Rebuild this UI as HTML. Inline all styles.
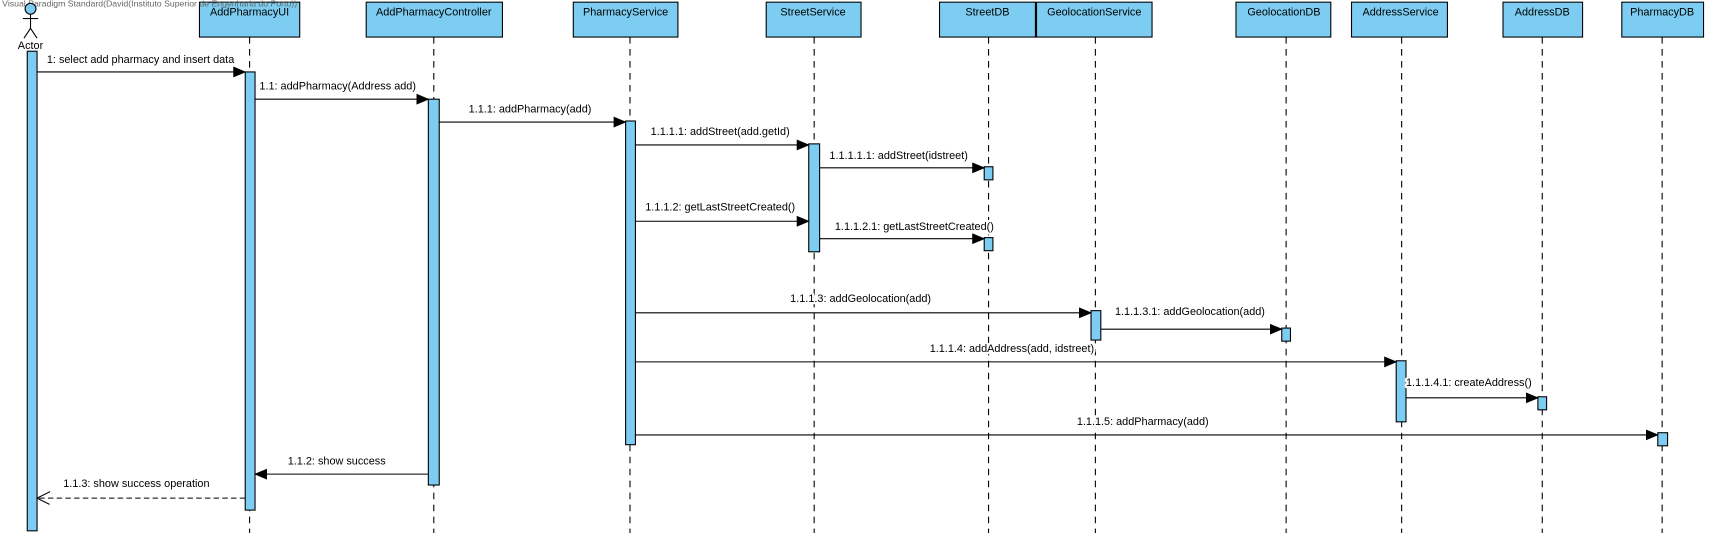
<!DOCTYPE html>
<html><head><meta charset="utf-8"><style>
html,body{margin:0;padding:0;background:#fff;}
svg{display:block;}
text{font-family:"Liberation Sans",Arial,sans-serif;font-size:10px;fill:#000;}
.m text{paint-order:stroke;stroke:#fff;stroke-width:4px;stroke-linejoin:round;}
</style></head><body>
<svg width="1709" height="533" viewBox="0 0 1568 489" preserveAspectRatio="none" xmlns="http://www.w3.org/2000/svg">
<defs>
<marker id="a" markerWidth="12" markerHeight="10" refX="11" refY="5" orient="auto" markerUnits="userSpaceOnUse"><path d="M0,0 L12,5 L0,10 Z" fill="#000"/></marker>
<marker id="o" markerWidth="14" markerHeight="14" refX="12" refY="6" orient="auto" markerUnits="userSpaceOnUse"><path d="M0,0 L12,6 L0,12" fill="none" stroke="#000"/></marker>
</defs>
<g stroke="#000" stroke-dasharray="6,5" stroke-width="1">
<line x1="229" y1="34" x2="229" y2="489"/><line x1="398" y1="34" x2="398" y2="489"/>
<line x1="578" y1="34" x2="578" y2="489"/><line x1="747" y1="34" x2="747" y2="489"/>
<line x1="907" y1="34" x2="907" y2="489"/><line x1="1005" y1="34" x2="1005" y2="489"/>
<line x1="1180" y1="34" x2="1180" y2="489"/><line x1="1286" y1="34" x2="1286" y2="489"/>
<line x1="1415" y1="34" x2="1415" y2="489"/><line x1="1525" y1="34" x2="1525" y2="489"/>
</g>
<g fill="#7ccdf1" stroke="#000">
<rect x="183" y="2" width="92" height="32"/><rect x="336" y="2" width="125" height="32"/>
<rect x="526" y="2" width="96" height="32"/><rect x="703" y="2" width="87" height="32"/>
<rect x="862" y="2" width="88" height="32"/><rect x="951" y="2" width="106" height="32"/>
<rect x="1134" y="2" width="87" height="32"/><rect x="1240" y="2" width="88" height="32"/>
<rect x="1379" y="2" width="73" height="32"/><rect x="1488" y="2" width="75" height="32"/>
</g>
<text x="2" y="6" style="font-size:8px;fill:#666">Visual Paradigm Standard(David(Instituto Superior de Engenharia do Porto))</text>
<g text-anchor="middle">
<text x="229" y="14">AddPharmacyUI</text><text x="398" y="14">AddPharmacyController</text>
<text x="574" y="14">PharmacyService</text><text x="746" y="14">StreetService</text>
<text x="906" y="14">StreetDB</text><text x="1004" y="14">GeolocationService</text>
<text x="1178" y="14">GeolocationDB</text><text x="1285" y="14">AddressService</text>
<text x="1415" y="14">AddressDB</text><text x="1525" y="14">PharmacyDB</text>
<text x="28" y="45">Actor</text>
</g>
<g stroke="#000" fill="none">
<circle cx="28" cy="8" r="5" fill="#7ccdf1"/>
<line x1="28" y1="13" x2="28" y2="26"/><line x1="21" y1="17" x2="35" y2="17"/>
<line x1="28" y1="26" x2="22" y2="35"/><line x1="28" y1="26" x2="34" y2="35"/>
</g>
<g fill="#7ccdf1" stroke="#000">
<rect x="25" y="47" width="9" height="440"/><rect x="225" y="66" width="9" height="402"/>
<rect x="393" y="91" width="10" height="354"/><rect x="574" y="111" width="9" height="297"/>
<rect x="742" y="132" width="10" height="99"/><rect x="903" y="153" width="8" height="12"/>
<rect x="903" y="218" width="8" height="12"/><rect x="1001" y="285" width="9" height="27"/>
<rect x="1176" y="301" width="8" height="12"/><rect x="1281" y="331" width="9" height="56"/>
<rect x="1411" y="364" width="8" height="12"/><rect x="1521" y="397" width="9" height="12"/>
</g>
<g stroke="#000" fill="none" marker-end="url(#a)">
<line x1="34" y1="66" x2="225" y2="66"/><line x1="234" y1="91" x2="393" y2="91"/>
<line x1="403" y1="112" x2="574" y2="112"/><line x1="583" y1="133" x2="742" y2="133"/>
<line x1="752" y1="154" x2="903" y2="154"/><line x1="583" y1="203" x2="742" y2="203"/>
<line x1="752" y1="219" x2="903" y2="219"/><line x1="583" y1="287" x2="1001" y2="287"/>
<line x1="1010" y1="302" x2="1176" y2="302"/><line x1="583" y1="332" x2="1281" y2="332"/>
<line x1="1290" y1="365" x2="1411" y2="365"/><line x1="583" y1="399" x2="1521" y2="399"/>
<line x1="393" y1="435" x2="234" y2="435"/>
</g>
<line x1="225" y1="457" x2="34" y2="457" stroke="#000" stroke-dasharray="5,3" marker-end="url(#o)"/>
<g class="m">
<text x="43" y="58">1: select add pharmacy and insert data</text>
<text x="238" y="82">1.1: addPharmacy(Address add)</text>
<text x="430" y="103">1.1.1: addPharmacy(add)</text>
<text x="597" y="124">1.1.1.1: addStreet(add.getId)</text>
<text x="761" y="146">1.1.1.1.1: addStreet(idstreet)</text>
<text x="592" y="193">1.1.1.2: getLastStreetCreated()</text>
<text x="766" y="211">1.1.1.2.1: getLastStreetCreated()</text>
<text x="725" y="277">1.1.1.3: addGeolocation(add)</text>
<text x="1023" y="289">1.1.1.3.1: addGeolocation(add)</text>
<text x="853" y="323">1.1.1.4: addAddress(add, idstreet)</text>
<text x="1290" y="354">1.1.1.4.1: createAddress()</text>
<text x="988" y="390">1.1.1.5: addPharmacy(add)</text>
<text x="264" y="426">1.1.2: show success</text>
<text x="58" y="447">1.1.3: show success operation</text>
</g>
</svg>
</body></html>
